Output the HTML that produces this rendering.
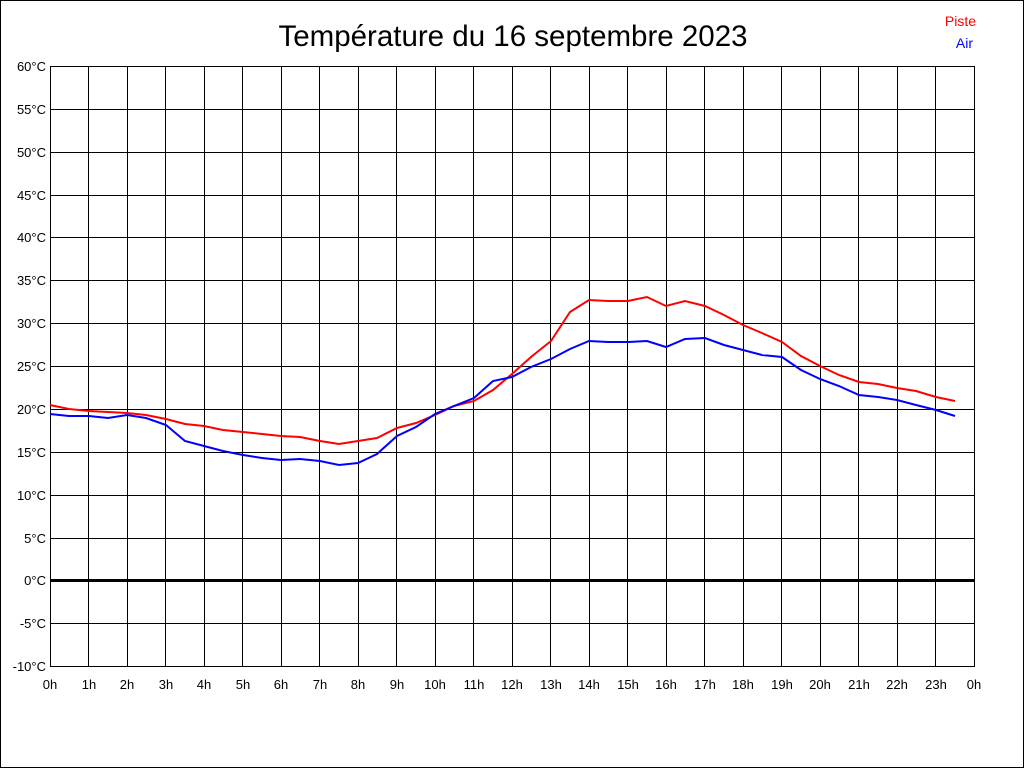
<!DOCTYPE html>
<html><head><meta charset="utf-8"><style>
html,body{margin:0;padding:0;background:#fff}
svg{display:block}
text{font-family:"Liberation Sans",sans-serif;font-size:13px;fill:#000}
</style></head><body>
<svg width="1024" height="768" xmlns="http://www.w3.org/2000/svg">
<rect x="0.5" y="0.5" width="1023" height="767" fill="#fff" stroke="#000"/>
<text x="513" y="46" text-anchor="middle" style="font-size:29.5px">Température du 16 septembre 2023</text>
<text x="976" y="26" text-anchor="end" style="fill:#f00;font-size:14px">Piste</text>
<text x="973" y="48" text-anchor="end" style="fill:#00f;font-size:14px">Air</text>
<g stroke="#000" stroke-width="1">
<path d="M50.5 66V666M88.5 66V666M127.5 66V666M165.5 66V666M204.5 66V666M242.5 66V666M281.5 66V666M319.5 66V666M358.5 66V666M396.5 66V666M435.5 66V666M473.5 66V666M512.5 66V666M550.5 66V666M589.5 66V666M627.5 66V666M666.5 66V666M704.5 66V666M743.5 66V666M781.5 66V666M820.5 66V666M858.5 66V666M897.5 66V666M935.5 66V666M974.5 66V666"/>
<path d="M50 66.5H975M50 109.5H975M50 152.5H975M50 195.5H975M50 237.5H975M50 280.5H975M50 323.5H975M50 366.5H975M50 409.5H975M50 452.5H975M50 495.5H975M50 538.5H975M50 623.5H975M50 666.5H975"/>
</g>
<rect x="50" y="579" width="925" height="3" fill="#000"/>
<g text-anchor="end">
<text x="46" y="71">60°C</text><text x="46" y="114">55°C</text><text x="46" y="157">50°C</text><text x="46" y="200">45°C</text><text x="46" y="242">40°C</text><text x="46" y="285">35°C</text><text x="46" y="328">30°C</text><text x="46" y="371">25°C</text><text x="46" y="414">20°C</text><text x="46" y="457">15°C</text><text x="46" y="500">10°C</text><text x="46" y="543">5°C</text><text x="46" y="585">0°C</text><text x="46" y="628">-5°C</text><text x="46" y="671">-10°C</text>
</g>
<g text-anchor="middle">
<text x="50" y="689">0h</text><text x="89" y="689">1h</text><text x="127" y="689">2h</text><text x="166" y="689">3h</text><text x="204" y="689">4h</text><text x="243" y="689">5h</text><text x="281" y="689">6h</text><text x="320" y="689">7h</text><text x="358" y="689">8h</text><text x="397" y="689">9h</text><text x="435" y="689">10h</text><text x="474" y="689">11h</text><text x="512" y="689">12h</text><text x="551" y="689">13h</text><text x="589" y="689">14h</text><text x="628" y="689">15h</text><text x="666" y="689">16h</text><text x="705" y="689">17h</text><text x="743" y="689">18h</text><text x="782" y="689">19h</text><text x="820" y="689">20h</text><text x="859" y="689">21h</text><text x="897" y="689">22h</text><text x="936" y="689">23h</text><text x="974" y="689">0h</text>
</g>
<polyline fill="none" stroke="#f00" stroke-width="2" points="50,405 69,409 89,411 108,412 127,413 146,415 166,419 185,424 204,426 223,430 243,432 262,434 281,436 300,437 320,441 339,444 358,441 377,438 397,428 416,423 435,415 454,406 474,401 493,390 512,374 531,357 551,341 570,312 589,300 608,301 628,301 647,297 666,306 685,301 705,306 724,315 743,325 762,333 782,342 801,356 820,366 839,375 859,382 878,384 897,388 916,391 936,397 955,401"/>
<polyline fill="none" stroke="#00f" stroke-width="2" points="50,414 69,416 89,416 108,418 127,415 146,418 166,425 185,441 204,446 223,451 243,455 262,458 281,460 300,459 320,461 339,465 358,463 377,454 397,436 416,427 435,414 454,406 474,398 493,381 512,377 531,367 551,359 570,349 589,341 608,342 628,342 647,341 666,347 685,339 705,338 724,345 743,350 762,355 782,357 801,370 820,379 839,386 859,395 878,397 897,400 916,405 936,410 955,416"/>
</svg>
</body></html>
